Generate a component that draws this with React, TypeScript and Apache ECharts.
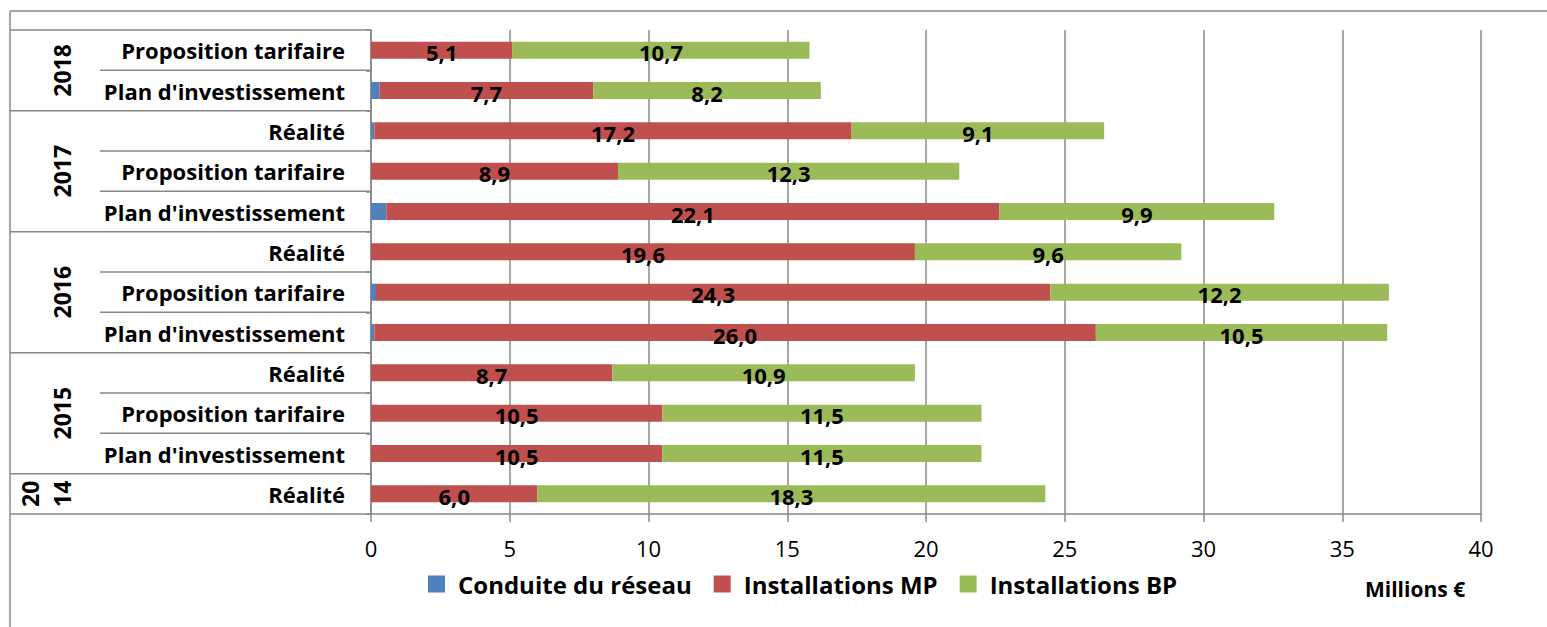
import React, { useEffect, useRef } from "react";
import * as echarts from "echarts";

// Rows listed from bottom to top
const years = ["2014", "2015", "2015", "2015", "2016", "2016", "2016", "2017", "2017", "2017", "2018", "2018"];
const types = [
  "Réalité",
  "Plan d'investissement",
  "Proposition tarifaire",
  "Réalité",
  "Plan d'investissement",
  "Proposition tarifaire",
  "Réalité",
  "Plan d'investissement",
  "Proposition tarifaire",
  "Réalité",
  "Plan d'investissement",
  "Proposition tarifaire",
];
const conduite = [0, 0, 0, 0, 0.12, 0.18, 0, 0.55, 0, 0.12, 0.31, 0];
const installationsMP = [6.0, 10.5, 10.5, 8.7, 26.0, 24.3, 19.6, 22.1, 8.9, 17.2, 7.7, 5.1];
const installationsBP = [18.3, 11.5, 11.5, 10.9, 10.5, 12.2, 9.6, 9.9, 12.3, 9.1, 8.2, 10.7];
const seriesNames = ["Conduite du réseau", "Installations MP", "Installations BP"];
const seriesColors = ["#4F81BD", "#C0504D", "#9BBB59"];
const xMin = 0;
const xMax = 40;
const xInterval = 5;
const yearDisplay: Record<string, string> = { "2014": "20\n14" };
const unitLabel = "Millions €";

const FONT = "'Open Sans', 'Noto Sans', sans-serif";
const GRAY = "#888888";

export default function App() {
  const ref = useRef<HTMLDivElement>(null);
  useEffect(() => {
    if (!ref.current) return;
    const chart = echarts.init(ref.current, undefined, { renderer: "svg" });
    const cats = years.map((y, i) => `${y}|${types[i]}`);
    const seriesData = [conduite, installationsMP, installationsBP];
    const fmt = (v: number) => v.toFixed(1).replace(".", ",");

    chart.setOption({
      animation: false,
      grid: { left: 371, right: 66, top: 30, bottom: 113, containLabel: false },
      xAxis: {
        type: "value",
        min: xMin,
        max: xMax,
        interval: xInterval,
        axisLine: { show: true, lineStyle: { color: GRAY, width: 1.5 } },
        axisTick: { show: true, length: 8, lineStyle: { color: GRAY, width: 1.5 } },
        splitLine: { show: true, lineStyle: { color: GRAY, width: 1.5 } },
        axisLabel: { color: "#000", fontSize: 22, fontFamily: FONT, margin: 23 },
      },
      yAxis: {
        type: "category",
        data: cats,
        axisLine: { show: true, lineStyle: { color: GRAY, width: 1.5 } },
        axisTick: { show: true, length: 5, lineStyle: { color: GRAY, width: 1.5 } },
        axisLabel: {
          color: "#000",
          fontSize: 22,
          fontWeight: "bold",
          fontFamily: FONT,
          margin: 26,
          formatter: (v: string) => v.split("|")[1],
        },
      },
      legend: {
        left: 423,
        top: 567,
        icon: "rect",
        itemWidth: 17,
        itemHeight: 17,
        itemGap: 22,
        data: seriesNames,
        textStyle: {
          color: "#000",
          fontSize: 24,
          fontWeight: "bold",
          fontFamily: FONT,
          padding: [0, 0, 0, 8],
        },
      },
      series: seriesNames.map((name, si) => ({
        type: "bar",
        name,
        stack: "total",
        barWidth: 17,
        data: seriesData[si],
        itemStyle: { color: seriesColors[si] },
        label: {
          show: si > 0,
          position: "inside",
          color: "#000",
          fontSize: 22,
          fontWeight: "bold",
          fontFamily: FONT,
          offset: [0, 2],
          formatter: (p: any) => fmt(p.value),
        },
      })),
    });

    // table decorations on the left, derived from the category axis positions
    const n = cats.length;
    const c0 = chart.convertToPixel({ yAxisIndex: 0 }, 0) as number;
    const c1 = chart.convertToPixel({ yAxisIndex: 0 }, 1) as number;
    const band = c0 - c1;
    const axisX = chart.convertToPixel({ xAxisIndex: 0 }, 0) as number;
    const boundary = (i: number) => c0 + band / 2 - i * band; // bottom edge of row i
    const frameX = 10;
    const subX = 100;
    const graphics: any[] = [];
    const line = (x1: number, y1: number, x2: number, y2: number) => ({
      type: "line",
      shape: { x1, y1, x2, y2 },
      style: { stroke: GRAY, lineWidth: 1.5 },
      silent: true,
    });
    // outer frame
    graphics.push(line(frameX, 11, 1547, 11));
    graphics.push(line(frameX, 11, frameX, 627));
    // groups
    let start = 0;
    for (let i = 1; i <= n; i++) {
      if (i === n || years[i] !== years[start]) {
        const yBottom = boundary(start);
        const yTop = boundary(i);
        graphics.push(line(frameX, yBottom, axisX, yBottom));
        for (let k = start + 1; k < i; k++) {
          const yb = boundary(k);
          graphics.push(line(subX, yb, axisX, yb));
        }
        const label = yearDisplay[years[start]] ?? years[start];
        graphics.push({
          type: "text",
          x: label.includes("\n") ? 46 : 62,
          y: (yBottom + yTop) / 2,
          rotation: Math.PI / 2,
          silent: true,
          style: {
            text: label,
            fill: "#000",
            font: `bold 23px ${FONT}`,
            align: "center",
            verticalAlign: "middle",
            lineHeight: 32,
          },
        });
        start = i;
      }
    }
    graphics.push(line(frameX, boundary(n), axisX, boundary(n)));
    graphics.push({
      type: "text",
      x: 1365,
      y: 589,
      silent: true,
      style: {
        text: unitLabel,
        fill: "#000",
        font: `bold 21px ${FONT}`,
        align: "left",
        verticalAlign: "middle",
      },
    });
    chart.setOption({ graphic: graphics });

    return () => chart.dispose();
  }, []);
  return <div ref={ref} style={{ position: "fixed", left: 0, top: 0, width: 1547, height: 627, background: "#fff" }} />;
}
